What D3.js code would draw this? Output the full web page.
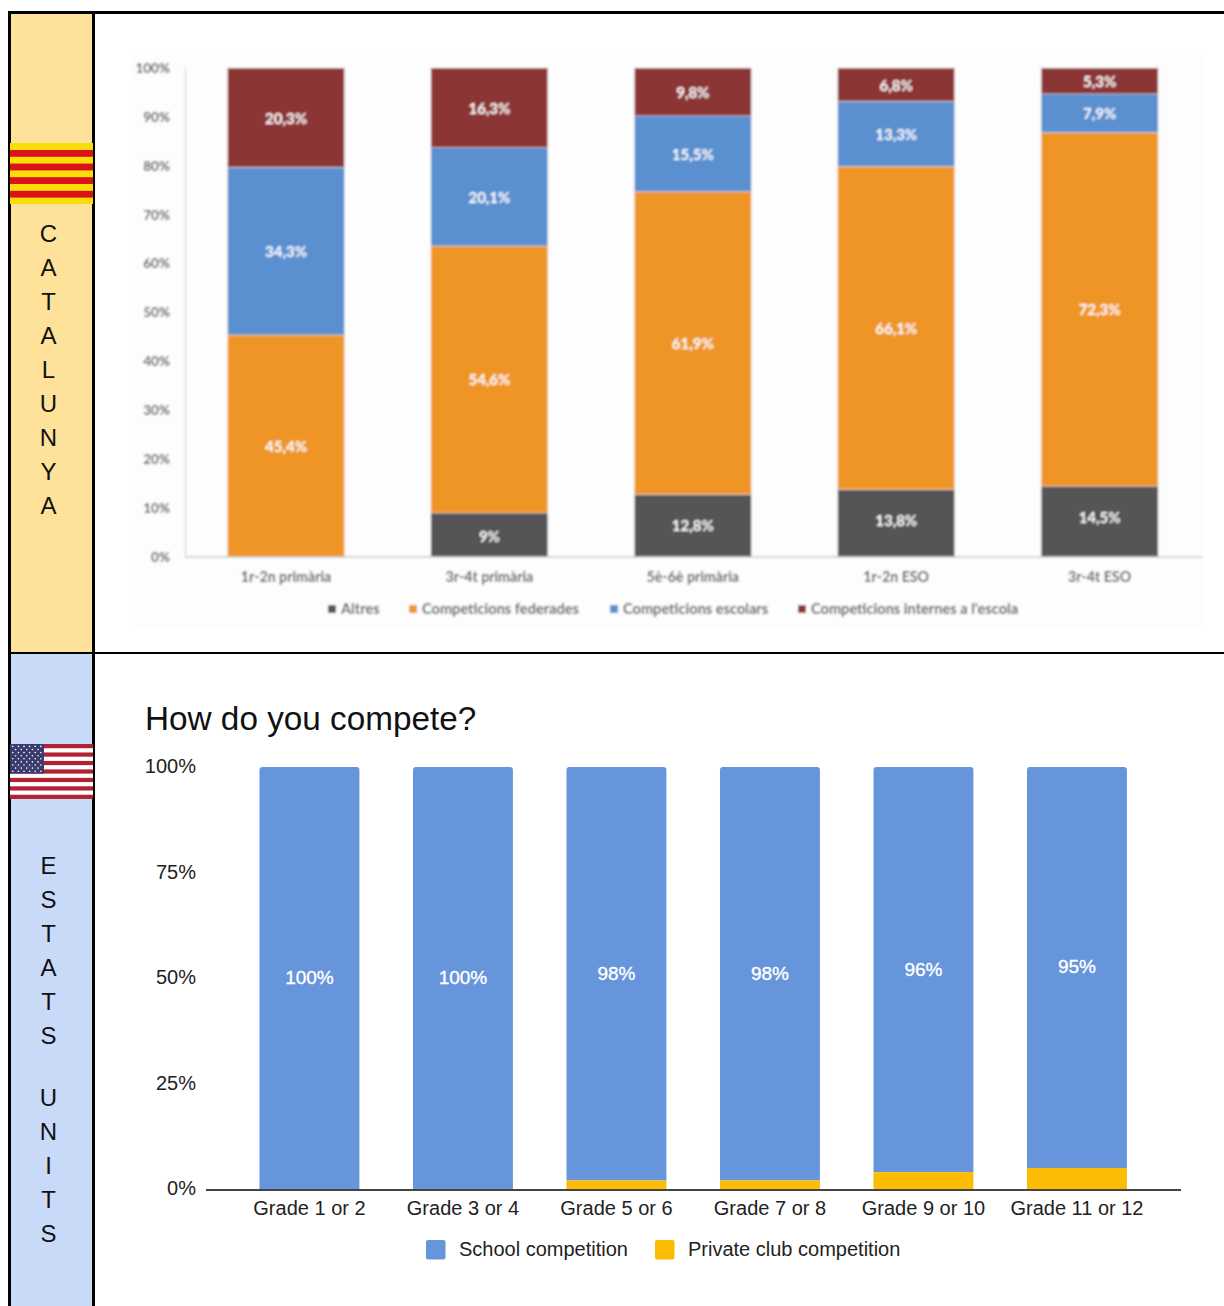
<!DOCTYPE html>
<html><head><meta charset="utf-8">
<style>html,body{margin:0;padding:0;background:#fff}svg{display:block}</style>
<script src="https://cdn.jsdelivr.net/npm/d3@7"></script></head>
<body><svg id="c" width="1224" height="1306"></svg>
<script>
const catCategories = ["1r-2n primària","3r-4t primària","5è-6è primària","1r-2n ESO","3r-4t ESO"];
const catAltres = [0,9,12.8,13.8,14.5];
const catFederades = [45.4,54.6,61.9,66.1,72.3];
const catEscolars = [34.3,20.1,15.5,13.3,7.9];
const catInternes = [20.3,16.3,9.8,6.8,5.3];
const catLabels = ["Altres","Competicions federades","Competicions escolars","Competicions internes a l'escola"];
const catTicks = [0,10,20,30,40,50,60,70,80,90,100];
const usCategories = ["Grade 1 or 2","Grade 3 or 4","Grade 5 or 6","Grade 7 or 8","Grade 9 or 10","Grade 11 or 12"];
const usSchool = [100,100,98,98,96,95];
const usPrivate = [0,0,2,2,4,5];
const usLabels = ["School competition","Private club competition"];
const usTicks = [0,25,50,75,100];
const catColors = ["#555458","#ee9525","#5a8fd0","#8c3535"];
const usColors = ["#6795db","#fbbc04"];
const fmt = v => String(v).replace(".",",") + "%";

const svg = d3.select("#c");
const SANS = "'Liberation Sans',Arial,sans-serif";
const LAT = "Lato,sans-serif";
const defs = svg.append("defs");
defs.append("filter").attr("id","blur").attr("filterUnits","userSpaceOnUse")
  .attr("x",120).attr("y",40).attr("width",1100).attr("height",600)
  .append("feGaussianBlur").attr("stdDeviation",1);

// side panels
svg.append("rect").attr("x",10).attr("y",12).attr("width",84).attr("height",641).attr("fill","#ffe299");
svg.append("rect").attr("x",10).attr("y",653).attr("width",84).attr("height",653).attr("fill","#c9daf8");

// vertical words
function vertical(word, x, y0, blankStep){
  let y = y0;
  for (const ch of word){
    if (ch === " "){ y += blankStep; continue; }
    svg.append("text").attr("x",x).attr("y",y).attr("text-anchor","middle")
      .attr("font-family",SANS).attr("font-size",24).attr("fill","#111").text(ch);
    y += 34;
  }
}
vertical("CATALUNYA",48.5,242,0);
vertical("ESTATS UNITS",48.5,874,28);

// Top chart
const top1 = svg.append("g").attr("filter","url(#blur)");
top1.append("rect").attr("x",130).attr("y",50).attr("width",1075).attr("height",578).attr("fill","#fdfdfd");
const y1 = d3.scaleLinear().domain([0,100]).range([557,68]);
const x1 = d3.scaleBand().domain(catCategories).range([184.3,1201.3]).paddingInner(0.425).paddingOuter(0.2125);
const stack1 = d3.stack().keys([0,1,2,3]).value((d,k)=>d[k])(catCategories.map((c,i)=>[catAltres[i],catFederades[i],catEscolars[i],catInternes[i]]));
stack1.forEach((s,si)=>{
  s.forEach((d,i)=>{
    const v = d[1]-d[0];
    if (v<=0) return;
    const c = catCategories[i];
    const nudge = si===0 ? [0,1,-1,-3,-5][i] : 0;
    top1.append("rect").attr("x",x1(c)).attr("width",x1.bandwidth())
      .attr("y",y1(d[1])).attr("height",y1(d[0])-y1(d[1])).attr("fill",catColors[si])
      .attr("stroke","#e8e8e8").attr("stroke-width",0.5);
    top1.append("text").attr("x",x1(c)+x1.bandwidth()/2).attr("y",(y1(d[0])+y1(d[1]))/2+6+nudge)
      .attr("text-anchor","middle").attr("font-family",LAT).attr("font-weight",700)
      .attr("font-size",15).attr("fill","#fff").text(fmt(+v.toFixed(1)));
  });
});
const ax1 = top1.append("g").attr("transform","translate(185,0)")
  .call(d3.axisLeft(y1).tickValues(catTicks).tickFormat(d=>d+"%").tickSize(0).tickPadding(15));
ax1.select(".domain").attr("stroke","#c9c9c9").attr("stroke-width",1);
ax1.selectAll("text").attr("font-family",LAT).attr("font-weight",700).attr("font-size",13.5).attr("fill","#5a5a5a");
const bx1 = top1.append("g").attr("transform","translate(0,557)")
  .call(d3.axisBottom(x1).tickSize(0).tickPadding(15));
bx1.select(".domain").attr("d","M185,0H1202").attr("stroke","#c9c9c9").attr("stroke-width",1.4);
bx1.selectAll("text").attr("font-family",LAT).attr("font-weight",700).attr("font-size",14.2).attr("fill","#5a5a5a");
[328,409,610,798].forEach((lx,i)=>{
  top1.append("rect").attr("x",lx).attr("y",605).attr("width",8).attr("height",8).attr("fill",catColors[i]);
  top1.append("text").attr("x",lx+13).attr("y",614).attr("font-family",LAT).attr("font-weight",700)
    .attr("font-size",14.6).attr("fill","#5a5a5a").text(catLabels[i]);
});

// Bottom chart
const g2 = svg.append("g");
g2.append("text").attr("x",145).attr("y",729.5).attr("font-family",SANS).attr("font-size",33.3).attr("fill","#111").text("How do you compete?");
const y2 = d3.scaleLinear().domain([0,100]).range([1189,767]);
const x2 = d3.scaleBand().domain(usCategories).range([232.7,1153.7]).paddingInner(0.349).paddingOuter(0.1745);
usCategories.forEach((c,i)=>{
  const x = x2(c), w = x2.bandwidth(), top = y2(usPrivate[i]+usSchool[i]), mid = y2(usPrivate[i]), r = 3;
  const p = d3.path();
  p.moveTo(x,mid); p.lineTo(x,top+r); p.arcTo(x,top,x+r,top,r); p.lineTo(x+w-r,top); p.arcTo(x+w,top,x+w,top+r,r); p.lineTo(x+w,mid); p.closePath();
  g2.append("path").attr("d",p.toString()).attr("fill",usColors[0]);
  if (usPrivate[i]>0) g2.append("rect").attr("x",x).attr("width",w).attr("y",mid).attr("height",y2(0)-mid).attr("fill",usColors[1]);
  g2.append("text").attr("x",x+w/2).attr("y",(top+mid)/2+6).attr("text-anchor","middle")
    .attr("font-family",SANS).attr("font-size",19).attr("fill","#fff")
    .attr("stroke","#fff").attr("stroke-width",0.35).text(usSchool[i]+"%");
});
const ax2 = g2.append("g").attr("transform","translate(196,0)")
  .call(d3.axisLeft(y2).tickValues(usTicks).tickFormat(d=>d+"%").tickSize(0).tickPadding(0));
ax2.select(".domain").remove();
ax2.selectAll("text").attr("font-family",SANS).attr("font-size",20).attr("fill","#222").attr("dy","0.28em");
const bx2 = g2.append("g").attr("transform","translate(0,1190)")
  .call(d3.axisBottom(x2).tickSize(0).tickPadding(11));
bx2.select(".domain").attr("d","M206,0H1181").attr("stroke","#444").attr("stroke-width",2);
bx2.selectAll("text").attr("font-family",SANS).attr("font-size",20).attr("fill","#222");
[[426,459],[655,688]].forEach(([sx,tx],i)=>{
  g2.append("rect").attr("x",sx).attr("y",1240).attr("width",19.5).attr("height",19.5).attr("rx",2).attr("fill",usColors[i]);
  g2.append("text").attr("x",tx).attr("y",1256).attr("font-family",SANS).attr("font-size",20).attr("fill","#222").text(usLabels[i]);
});

// borders
const bd = svg.append("g").attr("fill","#000");
bd.append("rect").attr("x",8).attr("y",11).attr("width",1216).attr("height",3);
bd.append("rect").attr("x",8).attr("y",11).attr("width",3).attr("height",1295);
bd.append("rect").attr("x",92).attr("y",11).attr("width",3).attr("height",1295);
bd.append("rect").attr("x",8).attr("y",652).attr("width",1216).attr("height",2);

// Catalan flag (over the borders)
const fl = svg.append("g");
fl.append("rect").attr("x",10).attr("y",143).attr("width",83).attr("height",61).attr("fill","#fcdd09");
d3.range(4).forEach(i => fl.append("rect").attr("x",10).attr("y",150+i*13.6).attr("width",83).attr("height",6.8).attr("fill","#da121a"));

// US flag
const us = svg.append("g");
us.append("rect").attr("x",10).attr("y",744).attr("width",83).attr("height",55).attr("fill","#fff");
d3.range(7).forEach(i => us.append("rect").attr("x",10).attr("y",744+i*8.46).attr("width",83).attr("height",4.23).attr("fill","#b22234"));
us.append("rect").attr("x",10).attr("y",744).attr("width",34).attr("height",29.6).attr("fill","#3c3b6e");
d3.range(9).forEach(r => {
  const n = r%2 ? 5 : 6;
  d3.range(n).forEach(k => us.append("circle")
    .attr("cx",12.8+(r%2?2.8:0)+k*5.6).attr("cy",746.4+r*3.1).attr("r",0.8).attr("fill","#fff"));
});
</script></body></html>
